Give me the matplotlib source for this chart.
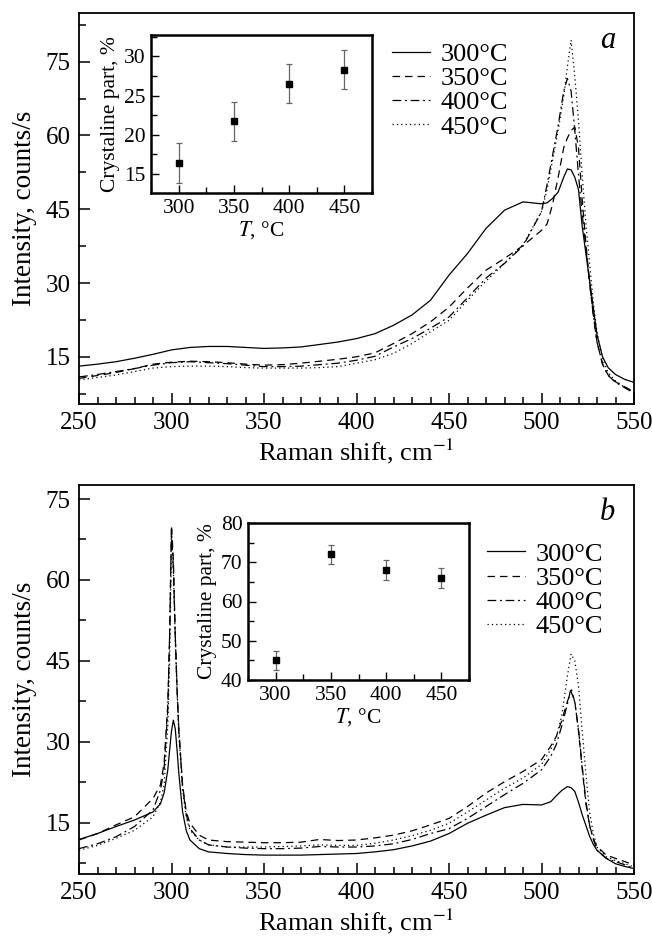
import matplotlib
matplotlib.use("Agg")
import matplotlib.pyplot as plt
from matplotlib.ticker import MultipleLocator

plt.rcParams["font.family"] = ["Liberation Serif", "DejaVu Serif"]
plt.rcParams["mathtext.fontset"] = "stix"

TEMPS = ["300°C", "350°C", "400°C", "450°C"]
STYLES = ["-", (0, (6, 4)), (0, (7, 3, 1.5, 3)), (0, (1, 2.5))]

# ---- panel a: Raman spectra ----
SHIFT_A = [250, 260, 270, 280, 290, 300, 310, 320, 330, 340, 350, 360, 370, 380, 390,
           400, 410, 420, 430, 440, 450, 460, 470, 480, 490,
           500, 503, 506, 509, 512, 514, 516, 518, 520, 522, 524, 526, 528, 530,
           533, 536, 540, 545, 550]
INT_A_300 = [13.1, 13.5, 14.0, 14.7, 15.5, 16.4, 16.9, 17.1, 17.1, 16.9, 16.7, 16.8, 17.0, 17.5, 18.0,
             18.7, 19.7, 21.4, 23.5, 26.5, 31.6, 36.0, 41.1, 44.8, 46.5,
             46.1, 46.3, 47.2, 48.5, 51.5, 53.2, 53.0, 51.5, 49.0, 41.5, 36.0, 30.5, 25.0, 19.5,
             15.0, 12.8, 11.4, 10.4, 9.8]
INT_A_350 = [10.6, 11.2, 11.8, 12.6, 13.5, 13.9, 14.1, 14.0, 13.8, 13.5, 13.3, 13.4, 13.7, 14.1, 14.5,
             15.0, 15.8, 17.7, 19.7, 22.1, 25.1, 29.0, 32.6, 35.0, 37.6,
             40.7, 42.0, 46.0, 51.5, 57.5, 59.5, 61.0, 61.7, 57.5, 47.0, 38.0, 30.0, 23.5, 18.0,
             13.5, 11.3, 9.9, 8.9, 7.9]
INT_A_400 = [10.9, 11.4, 12.0, 12.6, 13.3, 13.8, 14.0, 13.8, 13.6, 13.3, 13.0, 13.0, 13.1, 13.4, 13.7,
             14.3, 15.1, 17.0, 18.7, 20.8, 23.1, 27.0, 31.0, 34.0, 37.5,
             44.5, 50.0, 56.0, 62.0, 69.0, 71.6, 69.0, 61.0, 52.0, 44.0, 37.0, 30.0, 23.5, 18.0,
             13.5, 11.2, 9.8, 8.7, 7.6]
INT_A_450 = [10.3, 10.8, 11.3, 12.0, 12.7, 13.0, 13.1, 13.1, 13.0, 12.8, 12.7, 12.7, 12.7, 12.8, 13.0,
             13.7, 14.4, 15.7, 17.7, 20.1, 22.4, 26.5, 30.4, 34.0, 37.8,
             44.5, 49.0, 55.0, 61.0, 68.0, 74.0, 79.4, 72.0, 63.0, 52.0, 42.0, 34.0, 26.0, 20.0,
             14.5, 11.8, 10.1, 8.8, 7.7]

# ---- panel b: Raman spectra ----
SHIFT_B = [250, 260, 270, 280, 290, 294, 296, 298, 299, 300, 301, 302, 303, 304, 306, 308, 310,
           315, 320, 330, 340, 350, 360, 370, 380, 390, 400, 410, 420, 430, 440, 450, 460,
           470, 480, 490, 500, 505, 508, 511, 514, 516, 518, 520, 522, 524, 526, 528, 530,
           535, 540, 545, 550]
INT_B_300 = [11.9, 13.0, 14.3, 15.5, 17.0, 18.5, 20.5, 24.8, 28.5, 32.0, 34.0, 32.5, 28.5, 24.0, 17.0, 13.5, 11.8,
             10.2, 9.6, 9.3, 9.1, 9.0, 9.0, 9.0, 9.1, 9.2, 9.3, 9.6, 10.0, 10.7, 11.6, 13.0, 14.9,
             16.4, 17.8, 18.4, 18.3, 18.9, 20.0, 21.0, 21.7, 21.5, 20.8, 18.8, 16.5, 14.5, 12.5, 11.0, 9.9,
             8.4, 7.4, 6.9, 6.5]
INT_B_350 = [11.8, 13.0, 14.6, 16.1, 19.5, 22.0, 26.0, 37.0, 50.0, 70.0, 64.0, 50.0, 40.0, 32.0, 22.0, 17.0, 14.9,
             12.7, 11.8, 11.5, 11.4, 11.3, 11.3, 11.4, 11.9, 11.7, 11.8, 12.2, 12.7, 13.5, 14.6, 15.8, 18.0,
             20.5, 22.6, 24.5, 26.7, 29.2, 31.0, 34.0, 37.5, 39.3, 37.5, 32.0, 25.0, 18.5, 14.5, 12.0, 10.6,
             9.0, 8.4, 7.8, 7.2]
INT_B_400 = [10.2, 11.1, 12.4, 14.3, 17.4, 21.0, 25.0, 36.0, 50.0, 69.5, 62.0, 50.0, 40.0, 32.0, 21.7, 16.5, 13.9,
             11.8, 10.9, 10.5, 10.3, 10.2, 10.2, 10.3, 10.6, 10.5, 10.5, 10.7, 11.1, 11.9, 13.0, 13.9, 15.8,
             18.0, 20.2, 22.3, 24.8, 27.3, 29.5, 33.0, 37.0, 40.0, 37.3, 32.3, 25.5, 19.0, 14.5, 12.0, 9.9,
             8.4, 7.8, 7.2, 6.5]
INT_B_450 = [9.9, 10.8, 12.1, 13.6, 16.1, 18.8, 22.0, 33.0, 45.0, 68.0, 62.0, 49.6, 39.0, 31.0, 21.0, 16.0, 13.6,
             11.8, 10.9, 10.5, 10.5, 10.5, 10.6, 10.7, 10.9, 10.8, 10.8, 11.2, 11.8, 12.6, 13.6, 14.9, 17.0,
             19.2, 21.4, 23.3, 25.8, 28.6, 30.8, 35.0, 42.2, 46.3, 45.0, 40.4, 32.0, 24.0, 17.0, 13.0, 10.5,
             8.7, 8.0, 7.4, 6.8]

# ---- insets: crystalline fraction ----
T_INSET = [300, 350, 400, 450]
CRYST_A = [16.4, 21.7, 26.5, 28.3]
CRYST_B = [45.0, 72.0, 68.0, 66.0]
CRYST_ERR = [2.5, 2.5, 2.5, 2.5]

W, H = 652, 943


def px_axes(fig, left, top, right, bottom):
    return fig.add_axes([left / W, 1 - bottom / H, (right - left) / W, (bottom - top) / H])


def style_main(ax, ylim):
    ax.set_xlim(250, 550)
    ax.set_ylim(*ylim)
    ax.xaxis.set_major_locator(MultipleLocator(50))
    ax.xaxis.set_minor_locator(MultipleLocator(10))
    ax.yaxis.set_major_locator(MultipleLocator(15))
    ax.yaxis.set_minor_locator(MultipleLocator(7.5))
    ax.tick_params(which="both", direction="in", top=False, right=False, labelsize=18, width=1.1)
    ax.tick_params(which="major", length=8, pad=6)
    ax.tick_params(which="minor", length=5)
    for s in ax.spines.values():
        s.set_linewidth(1.3)
    ax.set_xlabel(r"Raman shift, cm$^{-1}$", fontsize=19, labelpad=2)
    ax.set_ylabel("Intensity, counts/s", fontsize=19.5, labelpad=6)


def style_inset(ax, ylim, ymajor):
    ax.set_xlim(275, 475)
    ax.set_ylim(*ylim)
    ax.xaxis.set_major_locator(MultipleLocator(50))
    ax.xaxis.set_minor_locator(MultipleLocator(25))
    ax.yaxis.set_major_locator(MultipleLocator(ymajor))
    ax.yaxis.set_minor_locator(MultipleLocator(ymajor / 2))
    ax.tick_params(which="both", direction="in", top=False, right=False, labelsize=15.5, width=1.0)
    ax.tick_params(which="major", length=6, pad=4)
    ax.tick_params(which="minor", length=4)
    for s in ax.spines.values():
        s.set_linewidth(1.8)
    ax.set_xlabel(r"$T$, °C", fontsize=15.5, labelpad=1)
    ax.set_ylabel("Crystaline part, %", fontsize=15.5, labelpad=3)


def draw_panel(ax, shift, series, ylim, letter, leg_xy):
    for vals, ls, lab in zip(series, STYLES, TEMPS):
        ax.plot(shift, vals, color="black", lw=0.9, ls=ls, label=lab)
    style_main(ax, ylim)
    ax.legend(loc="upper left", bbox_to_anchor=leg_xy, frameon=False, fontsize=19,
              handlelength=1.45, handletextpad=0.4, labelspacing=0.03,
              borderpad=0, borderaxespad=0)
    ax.text(0.953, 0.93, letter, transform=ax.transAxes, fontsize=22, style="italic",
            ha="center", va="center")


def draw_inset(ax, vals, ylim, ymajor):
    ax.errorbar(T_INSET, vals, yerr=CRYST_ERR, fmt="s", color="black", ms=4.5,
                ecolor="0.4", elinewidth=0.9, capsize=2.2, capthick=0.9)
    style_inset(ax, ylim, ymajor)


fig = plt.figure(figsize=(W / 100, H / 100), dpi=100)

ax_a = px_axes(fig, 79, 13, 634, 404)
draw_panel(ax_a, SHIFT_A, [INT_A_300, INT_A_350, INT_A_400, INT_A_450],
           (5.4, 84.9), "a", (0.564, 0.925))
ins_a = px_axes(fig, 151, 35, 372, 193)
draw_inset(ins_a, CRYST_A, (12.6, 32.7), 5)

ax_b = px_axes(fig, 79, 485, 634, 874)
draw_panel(ax_b, SHIFT_B, [INT_B_300, INT_B_350, INT_B_400, INT_B_450],
           (5.5, 77.6), "b", (0.735, 0.853))
ins_b = px_axes(fig, 248, 523, 469, 680)
draw_inset(ins_b, CRYST_B, (40, 80), 10)

fig.savefig("out.png", dpi=100)
